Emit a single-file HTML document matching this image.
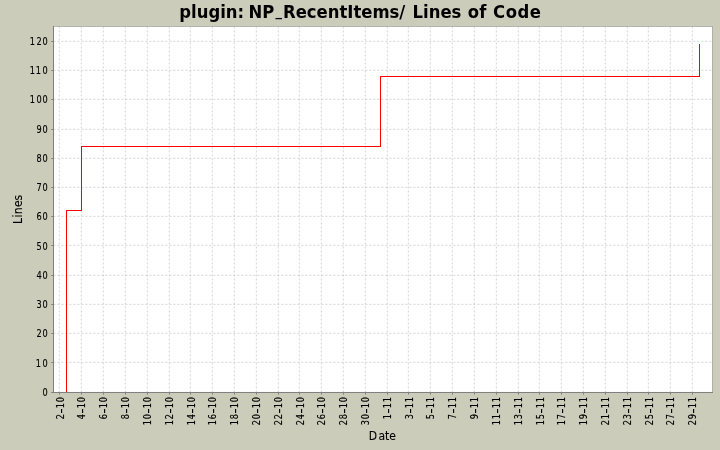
<!DOCTYPE html><html><head><meta charset="utf-8"><title>plugin: NP_RecentItems/ Lines of Code</title>
<style>html,body{margin:0;padding:0;background:#ccccbb;}body{width:720px;height:450px;overflow:hidden;position:relative;font-family:"DejaVu Sans","Liberation Sans",sans-serif;}svg{position:absolute;left:0;top:0;display:block}text{font-family:"DejaVu Sans","Liberation Sans",sans-serif;fill:#000;stroke:#000;stroke-width:0.15px}.c{font-family:"DejaVu Sans Condensed","DejaVu Sans","Liberation Sans",sans-serif}.h{font-family:"DejaVu Sans","Liberation Sans",sans-serif;font-size:14px;stroke-width:0}</style></head><body>
<svg width="720" height="450" viewBox="0 0 720 450">
<rect x="0" y="0" width="720" height="450" fill="#ccccbb"/>
<rect x="53.40" y="26.46" width="659.00" height="365.94" fill="#fff"/>
<g stroke="#c0c0c0" stroke-width="0.68" stroke-dasharray="2 2" fill="none">
<line x1="59.340" y1="26.46" x2="59.340" y2="392.40"/>
<line x1="81.340" y1="26.46" x2="81.340" y2="392.40"/>
<line x1="103.340" y1="26.46" x2="103.340" y2="392.40"/>
<line x1="125.340" y1="26.46" x2="125.340" y2="392.40"/>
<line x1="147.340" y1="26.46" x2="147.340" y2="392.40"/>
<line x1="169.340" y1="26.46" x2="169.340" y2="392.40"/>
<line x1="190.340" y1="26.46" x2="190.340" y2="392.40"/>
<line x1="212.340" y1="26.46" x2="212.340" y2="392.40"/>
<line x1="234.340" y1="26.46" x2="234.340" y2="392.40"/>
<line x1="256.340" y1="26.46" x2="256.340" y2="392.40"/>
<line x1="278.340" y1="26.46" x2="278.340" y2="392.40"/>
<line x1="299.340" y1="26.46" x2="299.340" y2="392.40"/>
<line x1="321.340" y1="26.46" x2="321.340" y2="392.40"/>
<line x1="343.340" y1="26.46" x2="343.340" y2="392.40"/>
<line x1="365.340" y1="26.46" x2="365.340" y2="392.40"/>
<line x1="387.340" y1="26.46" x2="387.340" y2="392.40"/>
<line x1="408.340" y1="26.46" x2="408.340" y2="392.40"/>
<line x1="430.340" y1="26.46" x2="430.340" y2="392.40"/>
<line x1="452.340" y1="26.46" x2="452.340" y2="392.40"/>
<line x1="474.340" y1="26.46" x2="474.340" y2="392.40"/>
<line x1="496.340" y1="26.46" x2="496.340" y2="392.40"/>
<line x1="518.340" y1="26.46" x2="518.340" y2="392.40"/>
<line x1="539.340" y1="26.46" x2="539.340" y2="392.40"/>
<line x1="561.340" y1="26.46" x2="561.340" y2="392.40"/>
<line x1="583.340" y1="26.46" x2="583.340" y2="392.40"/>
<line x1="605.340" y1="26.46" x2="605.340" y2="392.40"/>
<line x1="627.340" y1="26.46" x2="627.340" y2="392.40"/>
<line x1="648.340" y1="26.46" x2="648.340" y2="392.40"/>
<line x1="670.340" y1="26.46" x2="670.340" y2="392.40"/>
<line x1="692.340" y1="26.46" x2="692.340" y2="392.40"/>
<line x1="53.40" y1="392.340" x2="712.40" y2="392.340"/>
<line x1="53.40" y1="362.340" x2="712.40" y2="362.340"/>
<line x1="53.40" y1="333.340" x2="712.40" y2="333.340"/>
<line x1="53.40" y1="304.340" x2="712.40" y2="304.340"/>
<line x1="53.40" y1="275.340" x2="712.40" y2="275.340"/>
<line x1="53.40" y1="245.340" x2="712.40" y2="245.340"/>
<line x1="53.40" y1="216.340" x2="712.40" y2="216.340"/>
<line x1="53.40" y1="187.340" x2="712.40" y2="187.340"/>
<line x1="53.40" y1="158.340" x2="712.40" y2="158.340"/>
<line x1="53.40" y1="129.340" x2="712.40" y2="129.340"/>
<line x1="53.40" y1="99.340" x2="712.40" y2="99.340"/>
<line x1="53.40" y1="70.340" x2="712.40" y2="70.340"/>
<line x1="53.40" y1="41.340" x2="712.40" y2="41.340"/>
</g>
<rect x="53.25" y="26.25" width="659.00" height="366.00" fill="none" stroke="#808080" stroke-width="0.5"/>
<g stroke="#808080" stroke-width="1" fill="none">
<line x1="53.5" y1="26" x2="53.5" y2="393"/>
<line x1="53" y1="392.5" x2="713" y2="392.5"/>
<line x1="59.50" y1="393" x2="59.50" y2="394.6"/>
<line x1="81.50" y1="393" x2="81.50" y2="394.6"/>
<line x1="103.50" y1="393" x2="103.50" y2="394.6"/>
<line x1="125.50" y1="393" x2="125.50" y2="394.6"/>
<line x1="147.50" y1="393" x2="147.50" y2="394.6"/>
<line x1="169.50" y1="393" x2="169.50" y2="394.6"/>
<line x1="190.50" y1="393" x2="190.50" y2="394.6"/>
<line x1="212.50" y1="393" x2="212.50" y2="394.6"/>
<line x1="234.50" y1="393" x2="234.50" y2="394.6"/>
<line x1="256.50" y1="393" x2="256.50" y2="394.6"/>
<line x1="278.50" y1="393" x2="278.50" y2="394.6"/>
<line x1="299.50" y1="393" x2="299.50" y2="394.6"/>
<line x1="321.50" y1="393" x2="321.50" y2="394.6"/>
<line x1="343.50" y1="393" x2="343.50" y2="394.6"/>
<line x1="365.50" y1="393" x2="365.50" y2="394.6"/>
<line x1="387.50" y1="393" x2="387.50" y2="394.6"/>
<line x1="408.50" y1="393" x2="408.50" y2="394.6"/>
<line x1="430.50" y1="393" x2="430.50" y2="394.6"/>
<line x1="452.50" y1="393" x2="452.50" y2="394.6"/>
<line x1="474.50" y1="393" x2="474.50" y2="394.6"/>
<line x1="496.50" y1="393" x2="496.50" y2="394.6"/>
<line x1="518.50" y1="393" x2="518.50" y2="394.6"/>
<line x1="539.50" y1="393" x2="539.50" y2="394.6"/>
<line x1="561.50" y1="393" x2="561.50" y2="394.6"/>
<line x1="583.50" y1="393" x2="583.50" y2="394.6"/>
<line x1="605.50" y1="393" x2="605.50" y2="394.6"/>
<line x1="627.50" y1="393" x2="627.50" y2="394.6"/>
<line x1="648.50" y1="393" x2="648.50" y2="394.6"/>
<line x1="670.50" y1="393" x2="670.50" y2="394.6"/>
<line x1="692.50" y1="393" x2="692.50" y2="394.6"/>
<line x1="51.2" y1="392.50" x2="53" y2="392.50"/>
<line x1="51.2" y1="362.50" x2="53" y2="362.50"/>
<line x1="51.2" y1="333.50" x2="53" y2="333.50"/>
<line x1="51.2" y1="304.50" x2="53" y2="304.50"/>
<line x1="51.2" y1="275.50" x2="53" y2="275.50"/>
<line x1="51.2" y1="245.50" x2="53" y2="245.50"/>
<line x1="51.2" y1="216.50" x2="53" y2="216.50"/>
<line x1="51.2" y1="187.50" x2="53" y2="187.50"/>
<line x1="51.2" y1="158.50" x2="53" y2="158.50"/>
<line x1="51.2" y1="129.50" x2="53" y2="129.50"/>
<line x1="51.2" y1="99.50" x2="53" y2="99.50"/>
<line x1="51.2" y1="70.50" x2="53" y2="70.50"/>
<line x1="51.2" y1="41.50" x2="53" y2="41.50"/>
</g>
<g fill="#ff0000" shape-rendering="crispEdges">
<rect x="66" y="210" width="1" height="182"/>
<rect x="66" y="210" width="16" height="1"/>
<rect x="81" y="146" width="1" height="65"/>
<rect x="81" y="146" width="300" height="1"/>
<rect x="380" y="76" width="1" height="71"/>
<rect x="380" y="76" width="320" height="1"/>
<rect x="699" y="44" width="1" height="33"/>
</g>
<g class="c" font-size="10">
<text transform="translate(48,396.00) scale(0.82,1)" x="-6.71" y="0">0</text>
<text transform="translate(48,367.00) scale(0.82,1)" x="-15.00 -6.71" y="0">10</text>
<text transform="translate(48,337.00) scale(0.82,1)" x="-14.02 -6.71" y="0">20</text>
<text transform="translate(48,308.00) scale(0.82,1)" x="-14.02 -6.71" y="0">30</text>
<text transform="translate(48,279.00) scale(0.82,1)" x="-14.02 -6.71" y="0">40</text>
<text transform="translate(48,250.00) scale(0.82,1)" x="-14.02 -6.71" y="0">50</text>
<text transform="translate(48,220.00) scale(0.82,1)" x="-14.02 -6.71" y="0">60</text>
<text transform="translate(48,191.00) scale(0.82,1)" x="-14.02 -6.71" y="0">70</text>
<text transform="translate(48,162.00) scale(0.82,1)" x="-14.02 -6.71" y="0">80</text>
<text transform="translate(48,133.00) scale(0.82,1)" x="-14.02 -6.71" y="0">90</text>
<text transform="translate(48,103.00) scale(0.82,1)" x="-22.32 -14.02 -6.71" y="0">100</text>
<text transform="translate(48,74.00) scale(0.82,1)" x="-22.32 -15.00 -6.71" y="0">110</text>
<text transform="translate(48,45.00) scale(0.82,1)" x="-22.32 -14.02 -6.71" y="0">120</text>
</g>
<g class="c" font-size="10">
<text transform="translate(64.00,396.60) rotate(-90) scale(0.82,1)" y="0"><tspan x="-27.56">2</tspan><tspan class="h" x="-20.88" dy="2.34" textLength="6.70" lengthAdjust="spacingAndGlyphs">-</tspan><tspan x="-14.27 -6.83" dy="-2.34">10</tspan></text>
<text transform="translate(85.00,396.60) rotate(-90) scale(0.82,1)" y="0"><tspan x="-27.56">4</tspan><tspan class="h" x="-20.88" dy="2.34" textLength="6.70" lengthAdjust="spacingAndGlyphs">-</tspan><tspan x="-14.27 -6.83" dy="-2.34">10</tspan></text>
<text transform="translate(107.00,396.60) rotate(-90) scale(0.82,1)" y="0"><tspan x="-27.56">6</tspan><tspan class="h" x="-20.88" dy="2.34" textLength="6.70" lengthAdjust="spacingAndGlyphs">-</tspan><tspan x="-14.27 -6.83" dy="-2.34">10</tspan></text>
<text transform="translate(129.00,396.60) rotate(-90) scale(0.82,1)" y="0"><tspan x="-27.56">8</tspan><tspan class="h" x="-20.88" dy="2.34" textLength="6.70" lengthAdjust="spacingAndGlyphs">-</tspan><tspan x="-14.27 -6.83" dy="-2.34">10</tspan></text>
<text transform="translate(151.00,396.60) rotate(-90) scale(0.82,1)" y="0"><tspan x="-35.00 -27.56">10</tspan><tspan class="h" x="-20.88" dy="2.34" textLength="6.70" lengthAdjust="spacingAndGlyphs">-</tspan><tspan x="-14.27 -6.83" dy="-2.34">10</tspan></text>
<text transform="translate(173.00,396.60) rotate(-90) scale(0.82,1)" y="0"><tspan x="-35.00 -27.56">12</tspan><tspan class="h" x="-20.88" dy="2.34" textLength="6.70" lengthAdjust="spacingAndGlyphs">-</tspan><tspan x="-14.27 -6.83" dy="-2.34">10</tspan></text>
<text transform="translate(195.00,396.60) rotate(-90) scale(0.82,1)" y="0"><tspan x="-35.00 -27.56">14</tspan><tspan class="h" x="-20.88" dy="2.34" textLength="6.70" lengthAdjust="spacingAndGlyphs">-</tspan><tspan x="-14.27 -6.83" dy="-2.34">10</tspan></text>
<text transform="translate(216.00,396.60) rotate(-90) scale(0.82,1)" y="0"><tspan x="-35.00 -27.56">16</tspan><tspan class="h" x="-20.88" dy="2.34" textLength="6.70" lengthAdjust="spacingAndGlyphs">-</tspan><tspan x="-14.27 -6.83" dy="-2.34">10</tspan></text>
<text transform="translate(238.00,396.60) rotate(-90) scale(0.82,1)" y="0"><tspan x="-35.00 -27.56">18</tspan><tspan class="h" x="-20.88" dy="2.34" textLength="6.70" lengthAdjust="spacingAndGlyphs">-</tspan><tspan x="-14.27 -6.83" dy="-2.34">10</tspan></text>
<text transform="translate(260.00,396.60) rotate(-90) scale(0.82,1)" y="0"><tspan x="-34.88 -27.56">20</tspan><tspan class="h" x="-20.88" dy="2.34" textLength="6.70" lengthAdjust="spacingAndGlyphs">-</tspan><tspan x="-14.27 -6.83" dy="-2.34">10</tspan></text>
<text transform="translate(282.00,396.60) rotate(-90) scale(0.82,1)" y="0"><tspan x="-34.88 -27.56">22</tspan><tspan class="h" x="-20.88" dy="2.34" textLength="6.70" lengthAdjust="spacingAndGlyphs">-</tspan><tspan x="-14.27 -6.83" dy="-2.34">10</tspan></text>
<text transform="translate(304.00,396.60) rotate(-90) scale(0.82,1)" y="0"><tspan x="-34.88 -27.56">24</tspan><tspan class="h" x="-20.88" dy="2.34" textLength="6.70" lengthAdjust="spacingAndGlyphs">-</tspan><tspan x="-14.27 -6.83" dy="-2.34">10</tspan></text>
<text transform="translate(325.00,396.60) rotate(-90) scale(0.82,1)" y="0"><tspan x="-34.88 -27.56">26</tspan><tspan class="h" x="-20.88" dy="2.34" textLength="6.70" lengthAdjust="spacingAndGlyphs">-</tspan><tspan x="-14.27 -6.83" dy="-2.34">10</tspan></text>
<text transform="translate(347.00,396.60) rotate(-90) scale(0.82,1)" y="0"><tspan x="-34.88 -27.56">28</tspan><tspan class="h" x="-20.88" dy="2.34" textLength="6.70" lengthAdjust="spacingAndGlyphs">-</tspan><tspan x="-14.27 -6.83" dy="-2.34">10</tspan></text>
<text transform="translate(369.00,396.60) rotate(-90) scale(0.82,1)" y="0"><tspan x="-34.88 -27.56">30</tspan><tspan class="h" x="-20.88" dy="2.34" textLength="6.70" lengthAdjust="spacingAndGlyphs">-</tspan><tspan x="-14.27 -6.83" dy="-2.34">10</tspan></text>
<text transform="translate(391.00,396.60) rotate(-90) scale(0.82,1)" y="0"><tspan x="-27.68">1</tspan><tspan class="h" x="-20.88" dy="2.34" textLength="6.70" lengthAdjust="spacingAndGlyphs">-</tspan><tspan x="-14.27 -6.95" dy="-2.34">11</tspan></text>
<text transform="translate(413.00,396.60) rotate(-90) scale(0.82,1)" y="0"><tspan x="-27.56">3</tspan><tspan class="h" x="-20.88" dy="2.34" textLength="6.70" lengthAdjust="spacingAndGlyphs">-</tspan><tspan x="-14.27 -6.95" dy="-2.34">11</tspan></text>
<text transform="translate(434.00,396.60) rotate(-90) scale(0.82,1)" y="0"><tspan x="-27.56">5</tspan><tspan class="h" x="-20.88" dy="2.34" textLength="6.70" lengthAdjust="spacingAndGlyphs">-</tspan><tspan x="-14.27 -6.95" dy="-2.34">11</tspan></text>
<text transform="translate(456.00,396.60) rotate(-90) scale(0.82,1)" y="0"><tspan x="-27.56">7</tspan><tspan class="h" x="-20.88" dy="2.34" textLength="6.70" lengthAdjust="spacingAndGlyphs">-</tspan><tspan x="-14.27 -6.95" dy="-2.34">11</tspan></text>
<text transform="translate(478.00,396.60) rotate(-90) scale(0.82,1)" y="0"><tspan x="-27.56">9</tspan><tspan class="h" x="-20.88" dy="2.34" textLength="6.70" lengthAdjust="spacingAndGlyphs">-</tspan><tspan x="-14.27 -6.95" dy="-2.34">11</tspan></text>
<text transform="translate(500.00,396.60) rotate(-90) scale(0.82,1)" y="0"><tspan x="-35.00 -27.68">11</tspan><tspan class="h" x="-20.88" dy="2.34" textLength="6.70" lengthAdjust="spacingAndGlyphs">-</tspan><tspan x="-14.27 -6.95" dy="-2.34">11</tspan></text>
<text transform="translate(522.00,396.60) rotate(-90) scale(0.82,1)" y="0"><tspan x="-35.00 -27.56">13</tspan><tspan class="h" x="-20.88" dy="2.34" textLength="6.70" lengthAdjust="spacingAndGlyphs">-</tspan><tspan x="-14.27 -6.95" dy="-2.34">11</tspan></text>
<text transform="translate(544.00,396.60) rotate(-90) scale(0.82,1)" y="0"><tspan x="-35.00 -27.56">15</tspan><tspan class="h" x="-20.88" dy="2.34" textLength="6.70" lengthAdjust="spacingAndGlyphs">-</tspan><tspan x="-14.27 -6.95" dy="-2.34">11</tspan></text>
<text transform="translate(565.00,396.60) rotate(-90) scale(0.82,1)" y="0"><tspan x="-35.00 -27.56">17</tspan><tspan class="h" x="-20.88" dy="2.34" textLength="6.70" lengthAdjust="spacingAndGlyphs">-</tspan><tspan x="-14.27 -6.95" dy="-2.34">11</tspan></text>
<text transform="translate(587.00,396.60) rotate(-90) scale(0.82,1)" y="0"><tspan x="-35.00 -27.56">19</tspan><tspan class="h" x="-20.88" dy="2.34" textLength="6.70" lengthAdjust="spacingAndGlyphs">-</tspan><tspan x="-14.27 -6.95" dy="-2.34">11</tspan></text>
<text transform="translate(609.00,396.60) rotate(-90) scale(0.82,1)" y="0"><tspan x="-34.88 -27.68">21</tspan><tspan class="h" x="-20.88" dy="2.34" textLength="6.70" lengthAdjust="spacingAndGlyphs">-</tspan><tspan x="-14.27 -6.95" dy="-2.34">11</tspan></text>
<text transform="translate(631.00,396.60) rotate(-90) scale(0.82,1)" y="0"><tspan x="-34.88 -27.56">23</tspan><tspan class="h" x="-20.88" dy="2.34" textLength="6.70" lengthAdjust="spacingAndGlyphs">-</tspan><tspan x="-14.27 -6.95" dy="-2.34">11</tspan></text>
<text transform="translate(653.00,396.60) rotate(-90) scale(0.82,1)" y="0"><tspan x="-34.88 -27.56">25</tspan><tspan class="h" x="-20.88" dy="2.34" textLength="6.70" lengthAdjust="spacingAndGlyphs">-</tspan><tspan x="-14.27 -6.95" dy="-2.34">11</tspan></text>
<text transform="translate(674.00,396.60) rotate(-90) scale(0.82,1)" y="0"><tspan x="-34.88 -27.56">27</tspan><tspan class="h" x="-20.88" dy="2.34" textLength="6.70" lengthAdjust="spacingAndGlyphs">-</tspan><tspan x="-14.27 -6.95" dy="-2.34">11</tspan></text>
<text transform="translate(696.00,396.60) rotate(-90) scale(0.82,1)" y="0"><tspan x="-34.88 -27.56">29</tspan><tspan class="h" x="-20.88" dy="2.34" textLength="6.70" lengthAdjust="spacingAndGlyphs">-</tspan><tspan x="-14.27 -6.95" dy="-2.34">11</tspan></text>
</g>
<text class="c" x="368.8 378.4 384.9 389.3" y="439.8" font-size="12" style="stroke-width:0.1px">Date</text>
<text class="c" transform="translate(22.1,224.1) rotate(-90)" x="0 6.64 9.88 17.16 23.58" y="0" font-size="12" style="stroke-width:0.1px">Lines</text>
<text class="c" y="18" font-size="18.3" font-weight="bold" style="stroke-width:0"><tspan x="179.30">plugin: </tspan><tspan x="248.40">NP</tspan><tspan x="275.40" dy="-1.8" style="font-size:14.5px">_</tspan><tspan x="283.00" dy="1.8">RecentItems/ </tspan><tspan x="412.60">Lines </tspan><tspan x="467.85">of </tspan><tspan x="493.05" style="letter-spacing:0.55px">Code</tspan></text>
</svg></body></html>
